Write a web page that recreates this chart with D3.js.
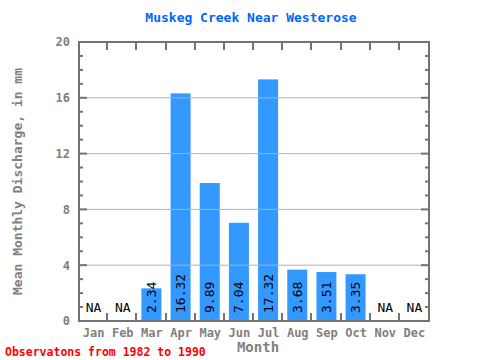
<!DOCTYPE html>
<html><head><meta charset="utf-8">
<script src="https://cdn.jsdelivr.net/npm/d3@7/dist/d3.min.js"></script>
<style>body{margin:0;background:#fff}svg{display:block}</style>
</head><body>
<svg id="c" width="480" height="360"></svg>
<script>
const months = ["Jan","Feb","Mar","Apr","May","Jun","Jul","Aug","Sep","Oct","Nov","Dec"];
const values = [null,null,2.34,16.32,9.89,7.04,17.32,3.68,3.51,3.35,null,null];
const labels = ["NA","NA","2.34","16.32","9.89","7.04","17.32","3.68","3.51","3.35","NA","NA"];
const yTicks = [0,4,8,12,16,20];
const title = "Muskeg Creek Near Westerose";
const yTitle = "Mean Monthly Discharge, in mm";
const xTitle = "Month";
const footer = "Observatons from 1982 to 1990";

const svg = d3.select("#c");
const font = "'DejaVu Sans Mono', monospace";
const L = 79, R = 429, T = 42, B = 321;
const x = d3.scaleBand().domain(months).range([L, R]);
const y = d3.scaleLinear().domain([0, 20]).range([B, T]);
const gray = "#808080", frame = "#737373";
const bw = 20;

// bars
svg.append("g").selectAll("rect").data(months.map((m,i)=>({m, v: values[i]})).filter(d=>d.v!=null))
  .join("rect")
  .attr("x", d => x(d.m) + x.bandwidth()/2 - bw/2 - 0.5)
  .attr("width", bw)
  .attr("y", d => y(d.v))
  .attr("height", d => B - y(d.v))
  .attr("fill", "#3399ff");

// grid lines
svg.append("g").selectAll("line").data(yTicks.filter(t => t > 0 && t < 20))
  .join("line")
  .attr("x1", L).attr("x2", R)
  .attr("y1", d => y(d)).attr("y2", d => y(d))
  .attr("stroke", "#b3b3b3").attr("stroke-width", 1);

// y axis ticks (inside, both sides)
const minor = d3.range(1, 20);
const tg = svg.append("g").attr("stroke", frame).attr("stroke-width", 2);
minor.forEach(v => {
  const len = v % 4 === 0 ? 8 : 4;
  tg.append("line").attr("x1", L).attr("x2", L + len).attr("y1", y(v)).attr("y2", y(v));
  tg.append("line").attr("x1", R - len).attr("x2", R).attr("y1", y(v)).attr("y2", y(v));
});
// x ticks at band boundaries
months.slice(1).forEach(m => {
  const xx = Math.round(x(m)) - 1;
  tg.append("line").attr("x1", xx).attr("x2", xx).attr("y1", B).attr("y2", B - 8);
  tg.append("line").attr("x1", xx).attr("x2", xx).attr("y1", T).attr("y2", T + 8);
});

// frame
svg.append("rect").attr("x", L).attr("y", T).attr("width", R - L).attr("height", B - T)
  .attr("fill", "none").attr("stroke", frame).attr("stroke-width", 2);

// y axis labels
const yAxis = d3.axisLeft(y).tickValues(yTicks).tickSize(0).tickPadding(9);
const ya = svg.append("g").attr("transform", `translate(${L},0)`).call(yAxis);
ya.select(".domain").remove();
ya.selectAll("text").attr("font-family", font).attr("font-size", 12).attr("fill", gray).attr("font-weight", "bold");

// x axis labels
const xAxis = d3.axisBottom(x).tickSize(0).tickPadding(7);
const xa = svg.append("g").attr("transform", `translate(0,${B})`).call(xAxis);
xa.select(".domain").remove();
xa.selectAll("text").attr("font-family", font).attr("font-size", 12).attr("fill", gray).attr("font-weight", "bold");

// value labels
months.forEach((m, i) => {
  const cx = x(m) + x.bandwidth()/2;
  if (values[i] == null) {
    svg.append("text").attr("x", cx).attr("y", 312).attr("text-anchor", "middle")
      .attr("font-family", font).attr("font-size", 13).attr("fill", "#000").text(labels[i]);
  } else {
    svg.append("text").attr("transform", `translate(${cx + 4},313) rotate(-90)`)
      .attr("text-anchor", "start")
      .attr("font-family", font).attr("font-size", 13).attr("fill", "#000").text(labels[i]);
  }
});

// titles
svg.append("text").attr("x", 251).attr("y", 22).attr("text-anchor", "middle")
  .attr("font-family", font).attr("font-size", 13).attr("font-weight", "bold").attr("fill", "#0066ff").text(title);
svg.append("text").attr("transform", `translate(22,${(T + B)/2}) rotate(-90)`).attr("text-anchor", "middle")
  .attr("font-family", font).attr("font-size", 13).attr("font-weight", "bold").attr("fill", gray).text(yTitle);
svg.append("text").attr("x", 258).attr("y", 352).attr("text-anchor", "middle")
  .attr("font-family", font).attr("font-size", 14).attr("font-weight", "bold").attr("fill", gray).text(xTitle);
svg.append("text").attr("x", 5).attr("y", 356)
  .attr("font-family", font).attr("font-size", 11.5).attr("font-weight", "bold").attr("fill", "#ff0000").text(footer);
</script>
</body></html>
